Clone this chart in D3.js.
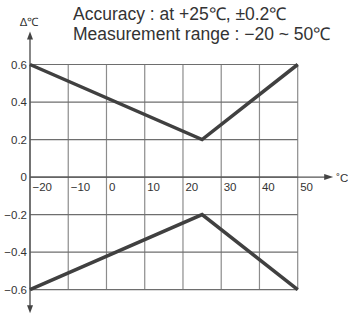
<!DOCTYPE html>
<html>
<head>
<meta charset="utf-8">
<script src="https://cdn.jsdelivr.net/npm/d3@7"></script>
<style>
  body { margin: 0; background: #fff; }
  svg { display: block; }
  text { font-family: "Liberation Sans", Arial, sans-serif; fill: #333; }
</style>
</head>
<body>
<svg id="chart" width="348" height="315"></svg>
<script>
// values
const xTicks = [-20, -10, 0, 10, 20, 30, 40, 50];
const yTicks = [0.6, 0.4, 0.2, 0, -0.2, -0.4, -0.6];
const tempPoints = [-20, 25, 50];
const upperError = [0.6, 0.2, 0.6];
const lowerError = [-0.6, -0.2, -0.6];
const titleLines = ["Accuracy : at +25\u2103, \u00B10.2\u2103", "Measurement range : \u221220 ~ 50\u2103"];

const svg = d3.select("#chart");
const width = 348, height = 315;
const padding = { top: 64.5, bottom: 25.3, left: 30, right: 50.3 };

const xScale = d3.scaleLinear()
  .domain([-20, 50])
  .range([padding.left, width - padding.right]);
const yScale = d3.scaleLinear()
  .domain([-0.6, 0.6])
  .range([height - padding.bottom, padding.top]);

const minus = (s) => s.replace("-", "\u2212");
const yFmt = (v) => (v === 0 ? "0" : minus(d3.format(".1f")(v)));
const xFmt = (v) => minus(d3.format("d")(v));

// grid
const grid = svg.append("g").attr("stroke", "#8c8c8c").attr("stroke-width", 1.2);
grid.selectAll("line.v").data(xTicks).join("line")
  .attr("class", "v")
  .attr("x1", d => xScale(d)).attr("x2", d => xScale(d))
  .attr("y1", yScale(0.6)).attr("y2", yScale(-0.6));
grid.selectAll("line.h").data(yTicks).join("line")
  .attr("class", "h")
  .attr("stroke", "#6e6e6e")
  .attr("x1", xScale(-20)).attr("x2", xScale(50))
  .attr("y1", d => yScale(d)).attr("y2", d => yScale(d));

// axes with arrows
const axisColor = "#555";
const x0 = xScale(-20), y0 = yScale(0);
const yTop = yScale(0.6) - 33, yBot = yScale(-0.6) + 23.5, xEnd = xScale(50) + 35.5;
const axes = svg.append("g");
axes.append("line")
  .attr("x1", x0).attr("x2", x0).attr("y1", yTop + 6).attr("y2", yBot - 6)
  .attr("stroke", axisColor).attr("stroke-width", 1.4);
axes.append("line")
  .attr("x1", x0).attr("x2", xEnd - 6).attr("y1", y0).attr("y2", y0)
  .attr("stroke", axisColor).attr("stroke-width", 1.4);
const arrow = (pts) => axes.append("path").attr("d", d3.line()(pts) + "Z").attr("fill", "#444");
arrow([[x0, yTop], [x0 - 3, yTop + 8], [x0 + 3, yTop + 8]]);
arrow([[x0, yBot], [x0 - 3, yBot - 8], [x0 + 3, yBot - 8]]);
arrow([[xEnd, y0], [xEnd - 9, y0 - 3], [xEnd - 9, y0 + 3]]);

// tick labels
const yAxis = svg.append("g")
  .attr("transform", `translate(${x0}, 0)`)
  .call(d3.axisLeft(yScale).tickValues(yTicks).tickSize(0).tickPadding(3).tickFormat(yFmt));
yAxis.select(".domain").remove();
yAxis.selectAll("text").attr("font-size", 11.5).attr("fill", "#333")
  .style("font-family", '"Liberation Sans", Arial, sans-serif');

const xAxis = svg.append("g")
  .attr("transform", `translate(0, ${y0})`)
  .call(d3.axisBottom(xScale).tickValues(xTicks).tickSize(0).tickPadding(5.5).tickFormat(xFmt));
xAxis.select(".domain").remove();
xAxis.selectAll("text").attr("font-size", 11.5).attr("fill", "#333")
  .attr("text-anchor", "start").attr("dx", 2)
  .style("font-family", '"Liberation Sans", Arial, sans-serif');

// axis unit labels
svg.append("text").attr("x", x0 - 10).attr("y", yTop - 5.5)
  .attr("font-size", 11.5).text("\u2206\u2103");
svg.append("text").attr("x", xEnd + 3).attr("y", y0 + 5)
  .attr("font-size", 11.5).text("\u02DAC");

// error lines
const lineGen = d3.line().x(d => xScale(d[0])).y(d => yScale(d[1]));
const series = [d3.zip(tempPoints, upperError), d3.zip(tempPoints, lowerError)];
svg.append("g").selectAll("path").data(series).join("path")
  .attr("d", lineGen)
  .attr("fill", "none")
  .attr("stroke", "#404040")
  .attr("stroke-width", 3.5)
  .attr("stroke-linejoin", "miter");

// title
svg.append("g").selectAll("text").data(titleLines).join("text")
  .attr("x", 73)
  .attr("y", (d, i) => 20 + i * 19.5)
  .attr("font-size", 17.5)
  .text(d => d);
</script>
</body>
</html>
